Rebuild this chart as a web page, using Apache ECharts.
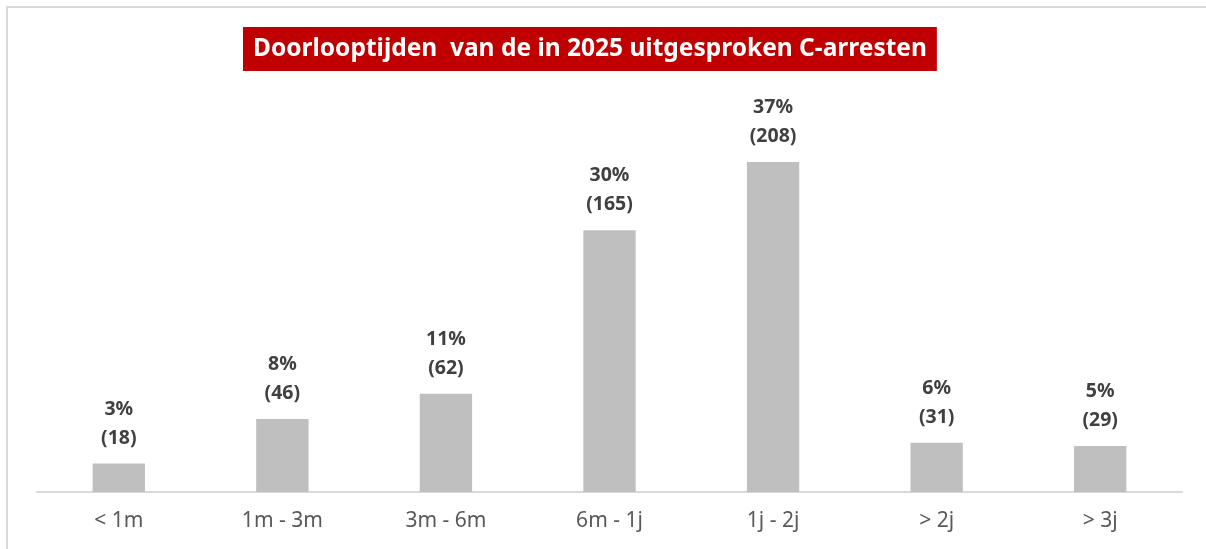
<!DOCTYPE html>
<html lang="nl">
<head>
    <meta charset="UTF-8">
    <title>Doorlooptijden C-arresten</title>
    <script src="https://cdn.jsdelivr.net/npm/echarts@6/dist/echarts.min.js"></script>
    <style>
        *{
            margin: 0;
            padding: 0;
        }
        .container{
            width: 1206px;
            height: 549px;
            background: #fff;
        }
    </style>
</head>
<body>
<div class="container"></div>
<script>
    // categorieen en waarden
    let categories=['< 1m','1m - 3m','3m - 6m','6m - 1j','1j - 2j','> 2j','> 3j']
    let counts=[18,46,62,165,208,31,29]
    let percents=[3,8,11,30,37,6,5]

    let container=document.querySelector('.container')
    let echart=echarts.init(container)

    let font='"Noto Sans", "Open Sans", sans-serif'

    let option={
        backgroundColor:'#fff',
        animation:false,
        title: {
            text: 'Doorlooptijden  van de in 2025 uitgesproken C-arresten',
            left:243,
            top:27,
            backgroundColor:'#c00000',
            padding:[6,10,6,10],
            textStyle:{
                color:'#fff',
                fontFamily:font,
                fontWeight:'bold',
                fontSize:24.5,
                lineHeight:32
            }
        },
        graphic:[
            {type:'line',shape:{x1:6,y1:7,x2:1206,y2:7},style:{stroke:'#d9d9d9',lineWidth:2}},
            {type:'line',shape:{x1:7,y1:6,x2:7,y2:549},style:{stroke:'#d9d9d9',lineWidth:2}}
        ],
        grid:{
            left:37,
            right:24,
            top:40,
            bottom:57
        },
        xAxis: {
            type:'category',
            data:categories,
            axisTick:{show:false},
            axisLine:{lineStyle:{color:'#d9d9d9',width:2}},
            axisLabel:{
                color:'#595959',
                fontFamily:font,
                fontSize:21,
                margin:19
            }
        },
        yAxis: {
            type:'value',
            min:0,
            max:285,
            show:false,
            splitLine:{show:false}
        },
        series:[{
            type:'bar',
            data:counts,
            barWidth:'32%',
            itemStyle:{color:'#bfbfbf'},
            label:{
                show:true,
                position:'top',
                distance:11,
                color:'#404040',
                fontFamily:font,
                fontWeight:'bold',
                fontSize:19.5,
                lineHeight:29,
                formatter:function (p) {
                    return percents[p.dataIndex]+'%\n('+p.value+')'
                }
            }
        }]
    }

    echart.setOption(option)
</script>
</body>
</html>
